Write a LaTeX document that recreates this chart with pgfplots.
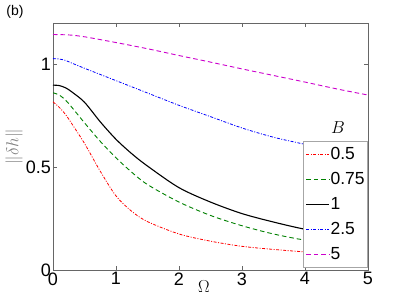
\documentclass[border=0pt]{standalone}
\usepackage{pgfplots}
\pgfplotsset{compat=1.18}
\usepackage{fontspec}
\setmainfont{Liberation Sans}
\definecolor{mred}{rgb}{1,0,0}
\definecolor{mgreen}{rgb}{0,0.5,0}
\definecolor{mblue}{rgb}{0,0,1}
\definecolor{mmag}{rgb}{0.8,0,0.8}
\begin{document}
\begin{tikzpicture}[x=1pt,y=1pt]
\path[use as bounding box] (0,0) rectangle (407,305);
\node[font=\fontsize{14}{16}\selectfont] at (15,293) {(b)};
\begin{axis}[
  at={(53pt,35pt)}, anchor=south west,
  width=315pt, height=247pt, scale only axis,
  xmin=0, xmax=5, ymin=0, ymax=1.2,
  xtick={0,1,2,3,4,5}, ytick={0,0.5,1},
  yticklabels={0,0.5,1},
  tick align=inside, major tick length=4pt,
  axis line style={black!60},
  every tick/.style={black!60},
  /pgf/number format/assume math mode=true,
  tick label style={font=\fontsize{18}{21}\selectfont},
  xticklabel style={yshift=1pt},
  yticklabel style={xshift=1.5pt},
  xlabel={$\Omega$},
  xlabel style={at={(axis description cs:0.479,0)}, anchor=center, yshift=-17pt, font=\fontsize{19}{22}\selectfont},
  ylabel={$\|\delta h\|$},
  ylabel style={at={(axis description cs:-0.124,0.5)}, anchor=center, text=black!50, font=\fontsize{17}{20}\selectfont},
  legend cell align=left,
  legend style={at={(1,0.008)}, anchor=south east, draw=black!35, line width=0.8pt, fill=white,
    font=\fontsize{17.5}{20}\selectfont, inner xsep=2.5pt, inner ysep=5pt, row sep=9pt,
    nodes={inner sep=0.5pt, text height=12pt, text depth=3pt}},
  legend image code/.code={\draw[#1, line width=1.5pt] (0pt,0pt) -- (23pt,0pt);},
  every axis plot/.append style={smooth, tension=0.5},
]
\addplot[color=mred, line width=0.8pt, dash pattern=on 3pt off 1.5pt on 1pt off 1.5pt] coordinates {
(0,0.817) (0.1,0.79) (0.2,0.755) (0.3,0.71) (0.5,0.615) (0.75,0.48) (1,0.36) (1.25,0.285) (1.5,0.235) (2,0.175) (2.5,0.14) (3,0.115) (3.5,0.1) (4,0.088) (4.5,0.08) (5,0.072)};
\addlegendentry{0.5}
\addplot[color=mgreen, line width=0.9pt, dash pattern=on 4.5pt off 3pt] coordinates {
(0,0.861) (0.1,0.85) (0.2,0.825) (0.3,0.79) (0.5,0.715) (0.75,0.625) (1,0.545) (1.25,0.475) (1.5,0.415) (2,0.33) (2.5,0.265) (3,0.215) (3.5,0.175) (4,0.145) (4.5,0.125) (5,0.11)};
\addlegendentry{0.75}
\addplot[color=black, line width=1.1pt] coordinates {
(0,0.898) (0.1,0.896) (0.2,0.885) (0.3,0.865) (0.5,0.815) (0.75,0.72) (1,0.635) (1.25,0.565) (1.5,0.505) (2,0.40) (2.5,0.33) (3,0.274) (3.5,0.233) (4,0.198) (4.5,0.175) (5,0.155)};
\addlegendentry{1}
\addplot[color=mblue, line width=0.8pt, dash pattern=on 3pt off 1.5pt on 1pt off 1.5pt] coordinates {
(0,1.027) (0.1,1.025) (0.2,1.018) (0.3,1.005) (0.5,0.98) (0.75,0.95) (1,0.92) (1.5,0.86) (2,0.80) (2.5,0.745) (3,0.69) (3.5,0.645) (4,0.61) (4.5,0.57) (5,0.54)};
\addlegendentry{2.5}
\addplot[color=mmag, line width=0.9pt, dash pattern=on 4.5pt off 3pt] coordinates {
(0,1.144) (0.25,1.142) (0.5,1.133) (1,1.105) (1.5,1.075) (2,1.042) (2.5,1.01) (3,0.977) (3.5,0.945) (4,0.913) (4.5,0.88) (5,0.85)};
\addlegendentry{5}
\node[font=\fontsize{17}{20}\selectfont] at (axis description cs:0.905,0.575) {$B$};
\end{axis}
\end{tikzpicture}
\end{document}
